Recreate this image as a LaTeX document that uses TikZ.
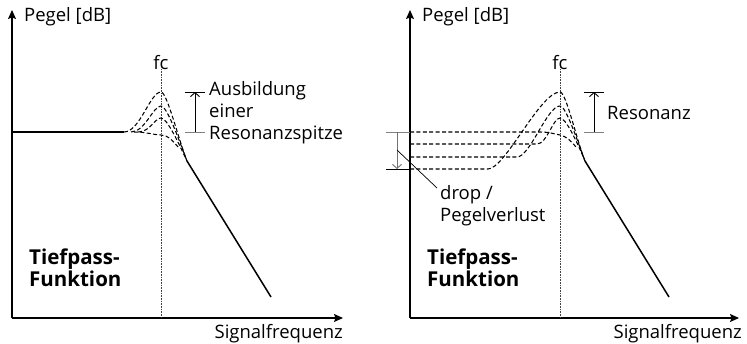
\documentclass[tikz,border=0pt]{standalone}
\usepackage{fontspec}
\setmainfont{Open Sans}
\usetikzlibrary{arrows.meta}

\tikzset{
  axis/.style={line width=1.1pt, -{Stealth[length=9pt,width=8pt,inset=1.5pt]}},
  curve/.style={line width=1.05pt, dash pattern=on 4pt off 2.4pt},
  slope/.style={line width=1.5pt},
  fcline/.style={line width=0.6pt, black!75, dash pattern=on 0.8pt off 0.8pt},
  lbl/.style={inner sep=0pt, font=\fontsize{18.5}{22}\selectfont, align=left},
  boldlbl/.style={lbl, font=\fontsize{20.5}{22}\selectfont\bfseries},
  bar/.style={line width=0.9pt},
  greybar/.style={line width=0.9pt, black!50},
  measure/.style={line width=0.9pt, -{Straight Barb[length=4pt,width=9pt]}},
}

\begin{document}
\begin{tikzpicture}[x=1pt,y=-1pt]
\useasboundingbox (0,0) rectangle (747,344);

% ---------- left panel: low-pass with rising resonance peak ----------
\coordinate (o1) at (12,318);
\coordinate (ytop1) at (12,10);
\coordinate (xend1) at (343,318);
\draw[axis] (o1) -- (ytop1);
\draw[axis] (o1) -- (xend1);
\node[lbl, anchor=base west] (pegel1) at (24,22) {Pegel [dB]};
\node[lbl, anchor=base east] (freq1) at (343,339) {Signalfrequenz};

\node[lbl, anchor=base] (fc1) at (161,70) {fc};
\coordinate (fcbot1) at (161,318);
\draw[fcline] (fc1.south) ++(0,-3) coordinate (fctop1) -- (fcbot1);

\coordinate (flat1) at (12,132);
\coordinate (knee1) at (124,132);
\draw[slope] (flat1) -- (knee1);
\coordinate (join1) at (187,161);
\coordinate (end1) at (271,297);
\draw[slope] (join1) -- (end1);

\draw[curve] (knee1) .. controls (140,132) and (150,92) .. (161,92)
  .. controls (167,92) and (178,138) .. (join1);
\draw[curve] (131,132) .. controls (145,132) and (153,106) .. (161,106)
  .. controls (167,106) and (179,140) .. (join1);
\draw[curve] (138,132) .. controls (150,132) and (155,118) .. (161,118)
  .. controls (167,118) and (178,142) .. (join1);
\draw[curve] (134,132) .. controls (147,132) and (154,135) .. (161,135)
  .. controls (168,135) and (174,142) .. (178,147);

% resonance marker
\coordinate (rtopL1) at (185,92);
\coordinate (rtopR1) at (205,92);
\coordinate (rbotL1) at (185,132);
\coordinate (rbotR1) at (205,132);
\coordinate (rtop1) at (195,92);
\coordinate (rbot1) at (195,132);
\draw[bar] (rtopL1) -- (rtopR1);
\draw[greybar] (rbotL1) -- (rbotR1);
\draw[measure] (rbot1) -- (rtop1);
% multi-line nodes are anchored at the baseline of their last line
\node[lbl, anchor=base west] (peak1) at (209,140) {Ausbildung\\einer\\Resonanzspitze};

\node[boldlbl, anchor=base west] (tp1) at (29,287) {Tiefpass-\\Funktion};

% ---------- right panel: resonance with level drop ----------
\begin{scope}[xshift=398pt]
\coordinate (o2) at (12,318);
\coordinate (ytop2) at (12,10);
\coordinate (xend2) at (341,318);
\draw[axis] (o2) -- (ytop2);
\draw[axis] (o2) -- (xend2);
\node[lbl, anchor=base west] (pegel2) at (24,22) {Pegel [dB]};
\node[lbl, anchor=base east] (freq2) at (344,339) {Signalfrequenz};

\node[lbl, anchor=base] (fc2) at (162,70) {fc};
\coordinate (fcbot2) at (162,318);
\draw[fcline] (fc2.south) ++(0,-3) coordinate (fctop2) -- (fcbot2);

\coordinate (join2) at (187,161);
\coordinate (end2) at (271,297);
\draw[slope] (join2) -- (end2);

\draw[curve] (12,132) -- (142,132) .. controls (152,132) and (156,134) .. (162,135)
  .. controls (168,136) and (174,142) .. (178,147);
\draw[curve] (12,144) -- (139,144) .. controls (149,144) and (155,118) .. (162,118)
  .. controls (168,118) and (179,142) .. (join2);
\draw[curve] (12,157) -- (119,157) .. controls (132,157) and (149,106) .. (162,106)
  .. controls (168,106) and (179,140) .. (join2);
\draw[curve] (12,169) -- (90,169) .. controls (107,169) and (142,92) .. (162,92)
  .. controls (168,92) and (178,138) .. (join2);

% level drop marker
\coordinate (dtopL) at (-12,132);
\coordinate (dtopR) at (12,132);
\coordinate (dbotL) at (-12,169);
\coordinate (dbotR) at (12,169);
\coordinate (dtop) at (-1,132);
\coordinate (dbot) at (-1,169);
\draw[greybar] (dtopL) -- (dtopR);
\draw[bar] (dbotL) -- (dbotR);
\draw[measure, black!55] (dtop) -- (dbot);
\node[lbl, anchor=base west] (drop) at (42,222) {drop /\\Pegelverlust};
\coordinate (lead) at (-1,150);
\coordinate (leadend) at (39,188);
\draw[line width=0.7pt] (lead) -- (leadend);

% resonance marker
\coordinate (rtopL2) at (186,92);
\coordinate (rtopR2) at (206,92);
\coordinate (rbotL2) at (186,132);
\coordinate (rbotR2) at (206,132);
\coordinate (rtop2) at (196,92);
\coordinate (rbot2) at (196,132);
\draw[bar] (rtopL2) -- (rtopR2);
\draw[greybar] (rbotL2) -- (rbotR2);
\draw[measure] (rbot2) -- (rtop2);
\node[lbl, anchor=base west] (res2) at (209,120) {Resonanz};

\node[boldlbl, anchor=base west] (tp2) at (29,287) {Tiefpass-\\Funktion};
\end{scope}
\end{tikzpicture}
\end{document}
